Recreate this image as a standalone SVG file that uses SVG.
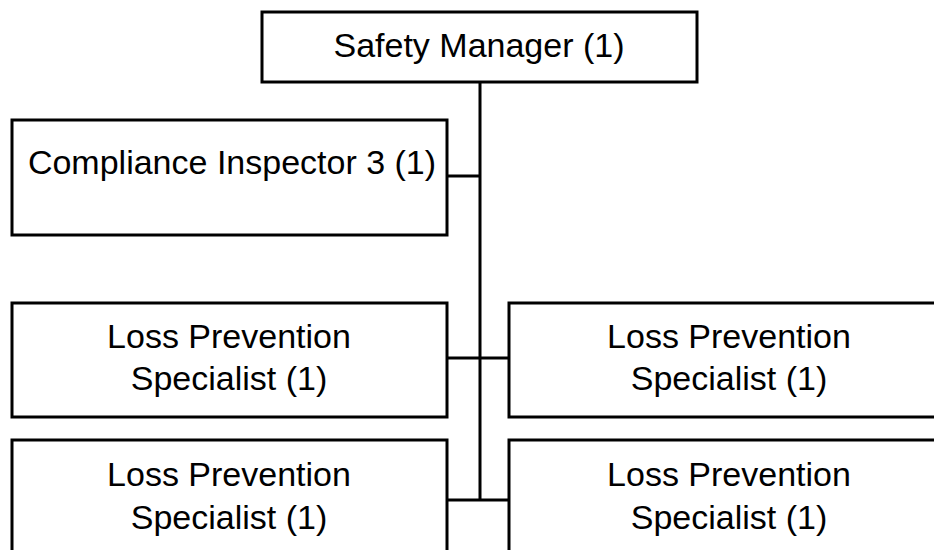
<svg xmlns="http://www.w3.org/2000/svg" width="934" height="550" viewBox="0 0 934 550">
<style>
.box{fill:#fff;stroke:#000;stroke-width:3}
.lbl{font-family:"Liberation Sans",Arial,sans-serif;font-size:34px;fill:#000;text-anchor:middle}
.con{stroke:#000;stroke-width:3;fill:none}
</style>
<rect width="934" height="550" fill="#fff"/>
<g id="connectors">
<line class="con" x1="480" y1="82" x2="480" y2="500"/>
<line class="con" x1="447" y1="176" x2="480" y2="176"/>
<line class="con" x1="447" y1="358" x2="509" y2="358"/>
<line class="con" x1="447" y1="500" x2="509" y2="500"/>
</g>
<g id="safety-manager">
<rect class="box" x="262" y="12" width="435" height="70"/>
<text class="lbl" x="479" y="57">Safety Manager (1)</text>
</g>
<g id="compliance-inspector">
<rect class="box" x="12" y="120" width="435" height="115"/>
<text class="lbl" x="232" y="174">Compliance Inspector 3 (1)</text>
</g>
<g id="lps-1">
<rect class="box" x="12" y="303" width="435" height="114"/>
<text class="lbl" x="229" y="348">Loss Prevention</text>
<text class="lbl" x="229" y="390">Specialist (1)</text>
</g>
<g id="lps-2">
<rect class="box" x="509" y="303" width="436" height="114"/>
<text class="lbl" x="729" y="348">Loss Prevention</text>
<text class="lbl" x="729" y="390">Specialist (1)</text>
</g>
<g id="lps-3">
<rect class="box" x="12" y="440" width="435" height="130"/>
<text class="lbl" x="229" y="486">Loss Prevention</text>
<text class="lbl" x="229" y="529">Specialist (1)</text>
</g>
<g id="lps-4">
<rect class="box" x="509" y="440" width="436" height="130"/>
<text class="lbl" x="729" y="486">Loss Prevention</text>
<text class="lbl" x="729" y="529">Specialist (1)</text>
</g>
</svg>
